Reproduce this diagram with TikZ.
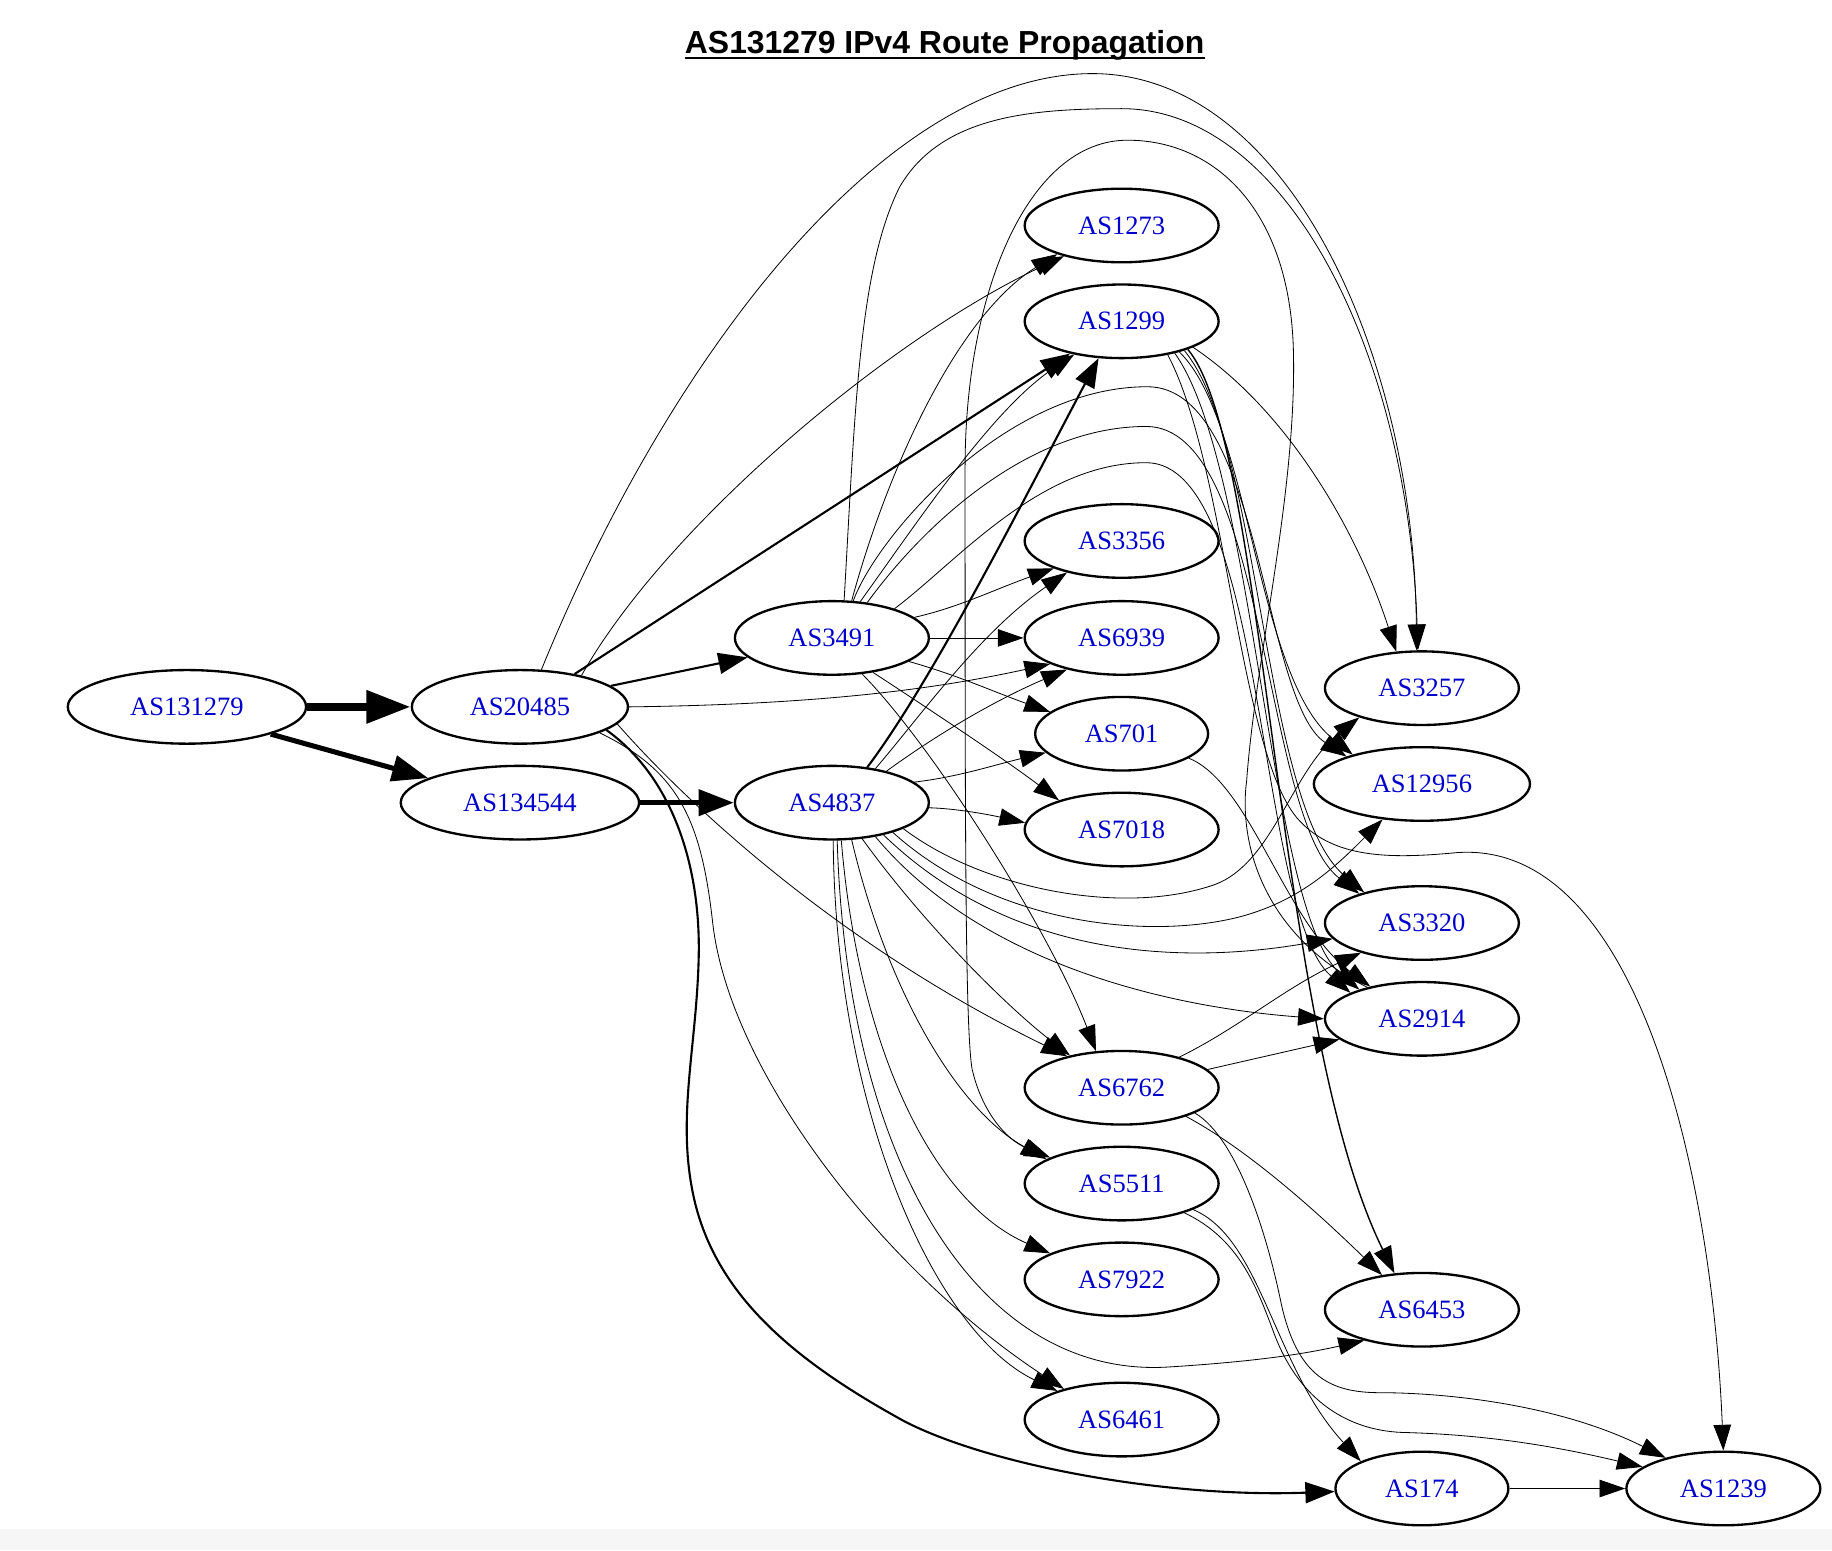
\documentclass[tikz,border=0pt]{standalone}
\usepackage{fontspec}
\setmainfont{Liberation Serif}
\newfontfamily\titlefont{Liberation Sans}
\usetikzlibrary{shapes.geometric,arrows.meta}
\definecolor{astext}{RGB}{0,0,204}
\definecolor{bandgray}{RGB}{246,246,246}
\begin{document}
\begin{tikzpicture}[x=1pt,y=-1pt,
  asn/.style={ellipse,draw,line width=2pt,minimum height=63pt,minimum width=166pt,inner sep=0pt,text=astext,font=\fontsize{22.7}{27}\selectfont},
  ethin/.style={line width=0.7pt,-{Triangle[length=22pt,width=15pt]}},
  emid/.style={line width=1.8pt,-{Triangle[length=25pt,width=18pt]}},
  emidb/.style={line width=1.2pt,-{Triangle[length=23pt,width=16pt]}},
  ehone/.style={line width=7pt,-{Triangle[length=38pt,width=27pt]}},
  ehtwo/.style={line width=4.3pt,-{Triangle[length=31pt,width=22pt]}},
  ehthree/.style={line width=4.3pt,-{Triangle[length=30pt,width=22pt]}}]
\fill[white] (0,0) rectangle (1568,1327);
\fill[bandgray] (0,1309) rectangle (1568,1327);
\useasboundingbox (0,0) rectangle (1568,1327);

\node[font=\titlefont\bfseries\fontsize{27.3}{32}\selectfont,inner sep=0pt,anchor=base] (title) at (808.5,45.6) {AS131279 IPv4 Route Propagation};
\draw[line width=2.3pt] ([yshift=-4pt]title.base west) -- ([yshift=-4pt]title.base east);

% nodes
\node[asn,minimum width=204pt] (n131279) at (160,605) {AS131279};
\node[asn,minimum width=185pt] (n20485) at (445,605) {AS20485};
\node[asn,minimum width=204pt] (n134544) at (445,687) {AS134544};
\node[asn] (n3491) at (712,546) {AS3491};
\node[asn] (n4837) at (712,687) {AS4837};
\node[asn] (n1273) at (960,193) {AS1273};
\node[asn] (n1299) at (960,275) {AS1299};
\node[asn] (n3356) at (960,463) {AS3356};
\node[asn] (n6939) at (960,546) {AS6939};
\node[asn,minimum width=148pt] (n701) at (960,628) {AS701};
\node[asn] (n7018) at (960,710) {AS7018};
\node[asn] (n6762) at (960,931) {AS6762};
\node[asn] (n5511) at (960,1013) {AS5511};
\node[asn] (n7922) at (960,1095) {AS7922};
\node[asn] (n6461) at (960,1215) {AS6461};
\node[asn] (n3257) at (1217,589) {AS3257};
\node[asn,minimum width=185pt] (n12956) at (1217,671) {AS12956};
\node[asn] (n3320) at (1217,790) {AS3320};
\node[asn] (n2914) at (1217,872) {AS2914};
\node[asn] (n6453) at (1217,1121) {AS6453};
\node[asn,minimum width=148pt] (n174) at (1217,1274) {AS174};
\node[asn] (n1239) at (1475,1274) {AS1239};

% heavy edges
\draw[ehone] (n131279) -- (n20485);
\draw[ehtwo] (n131279.-18) -- (n134544.165);
\draw[ehthree] (n134544) -- (n4837);
\draw[emid] (n20485.13) -- (n3491.-167);
\draw[emid] (n20485.31) -- (n1299.-148);
\draw[emid] (n20485.-15) .. controls (575,665) and (600,740) .. (598,820) .. controls (596,900) and (578,960) .. (595,1030) .. controls (615,1110) and (680,1165) .. (775,1217) .. controls (850,1255) and (1000,1282) .. (n174.-178);
\draw[emid] (n4837.45) .. controls (800,580) and (880,420) .. (n1299.-122);

% AS20485
\draw[ethin] (n20485.60) .. controls (575,300) and (760,63) .. (935,63) .. controls (1100,63) and (1210,300) .. (n3257.98);
\draw[ethin] (n20485.27) .. controls (570,450) and (760,290) .. (n1273.-152);
\draw[ethin] (n20485.0) .. controls (700,603) and (800,590) .. (n6939.-160);
\draw[ethin] (n20485.-10) .. controls (590,690) and (720,810) .. (n6762.150);
\draw[ethin] (n20485.-18) .. controls (580,660) and (600,700) .. (610,790) .. controls (625,920) and (760,1090) .. (n6461.152);

% AS3491
\draw[ethin] (n3491.72) .. controls (732,350) and (735,230) .. (770,160) .. controls (805,100) and (880,93) .. (960,93) .. controls (1100,93) and (1205,300) .. (n3257.96);
\draw[ethin] (n3491.62) .. controls (760,400) and (820,270) .. (n1273.-156);
\draw[ethin] (n3491.52) .. controls (790,440) and (850,350) .. (n1299.-145);
\draw[ethin] (n3491.14) .. controls (820,520) and (850,505) .. (n3356.-158);
\draw[ethin] (n3491) -- (n6939);
\draw[ethin] (n3491.-17) .. controls (820,578) and (850,592) .. (n701.163);
\draw[ethin] (n3491.-40) .. controls (800,610) and (860,650) .. (n7018.155);
\draw[ethin] (n3491.-50) .. controls (800,640) and (900,800) .. (n6762.125);
\draw[ethin] (n3491.60) .. controls (750,460) and (860,331) .. (982,331) .. controls (1080,331) and (1080,600) .. (n12956.160);
\draw[ethin] (n3491.45) .. controls (790,450) and (880,365) .. (981,365) .. controls (1085,365) and (1080,700) .. (n3320.155);
\draw[ethin] (n3491.25) .. controls (820,480) and (890,396) .. (981,396) .. controls (1085,396) and (1075,780) .. (n2914.160);

% arc to AS5511
\draw[ethin] (n2914.150) .. controls (1080,800) and (1060,720) .. (1067,668) .. controls (1075,560) and (1110,420) .. (1107,300) .. controls (1104,180) and (1040,120) .. (965,120) .. controls (880,120) and (826,250) .. (826,400) .. controls (826,700) and (826,880) .. (832,915) .. controls (840,950) and (860,975) .. (n5511.160);

% AS4837
\draw[ethin] (n4837.38) .. controls (790,610) and (840,540) .. (n3356.-150);
\draw[ethin] (n4837.30) .. controls (800,630) and (850,600) .. (n6939.-150);
\draw[ethin] (n4837.14) .. controls (820,665) and (850,655) .. (n701.-166);
\draw[ethin] (n4837.-3) .. controls (820,692) and (850,698) .. (n7018.176);
\draw[ethin] (n4837.-20) .. controls (840,760) and (960,785) .. (1040,757) .. controls (1090,738) and (1105,660) .. (n3257.-155);
\draw[ethin] (n4837.-26) .. controls (850,790) and (980,805) .. (1060,785) .. controls (1110,772) and (1140,745) .. (n12956.-138);
\draw[ethin] (n4837.-32) .. controls (860,815) and (1000,828) .. (n3320.-170);
\draw[ethin] (n4837.-38) .. controls (840,825) and (1000,862) .. (n2914.180);
\draw[ethin] (n4837.-50) .. controls (790,790) and (860,860) .. (n6762.148);
\draw[ethin] (n4837.-62) .. controls (760,850) and (820,950) .. (n5511.162);
\draw[ethin] (n4837.-76) .. controls (735,900) and (800,1030) .. (n7922.160);
\draw[ethin] (n4837.-88) .. controls (715,950) and (800,1140) .. (n6461.156);
\draw[ethin] (n4837.-82) .. controls (725,1000) and (840,1180) .. (1000,1170) .. controls (1080,1165) and (1120,1158) .. (n6453.-152);

% AS1299
\draw[ethin] (n1299.-20) .. controls (1100,350) and (1160,450) .. (n3257.125);
\draw[ethin] (n1299.-28) .. controls (1070,360) and (1075,580) .. (n12956.157);
\draw[ethin] (n1299.-25) .. controls (1080,380) and (1080,690) .. (n3320.152);
\draw[ethin] (n1299.-31) .. controls (1075,400) and (1085,780) .. (n2914.155);
\draw[emidb] (n1299.-23) .. controls (1085,380) and (1090,880) .. (n6453.127);
\draw[ethin] (n1299.-36) .. controls (1050,400) and (1060,640) .. (1110,700) .. controls (1140,735) and (1190,735) .. (1244,730) .. controls (1400,715) and (1465,1000) .. (n1239.90);

% others
\draw[ethin] (n701.-20) .. controls (1070,670) and (1100,790) .. (n2914.148);
\draw[ethin] (n6762.28) .. controls (1060,880) and (1100,845) .. (n3320.-154);
\draw[ethin] (n6762.12) -- (n2914.-166);
\draw[ethin] (n6762.-24) .. controls (1070,985) and (1130,1040) .. (n6453.139);
\draw[ethin] (n6762.-19) .. controls (1060,975) and (1085,1060) .. (1096,1113) .. controls (1110,1180) and (1140,1192) .. (1182,1192) .. controls (1230,1192) and (1330,1200) .. (n1239.152);
\draw[ethin] (n5511.-20) .. controls (1080,1060) and (1090,1170) .. (n174.156);
\draw[ethin] (n5511.-25) .. controls (1060,1060) and (1075,1100) .. (1090,1140) .. controls (1110,1195) and (1150,1224) .. (1200,1226) .. controls (1280,1228) and (1340,1240) .. (n1239.165);
\draw[ethin] (n174) -- (n1239);
\end{tikzpicture}
\end{document}
